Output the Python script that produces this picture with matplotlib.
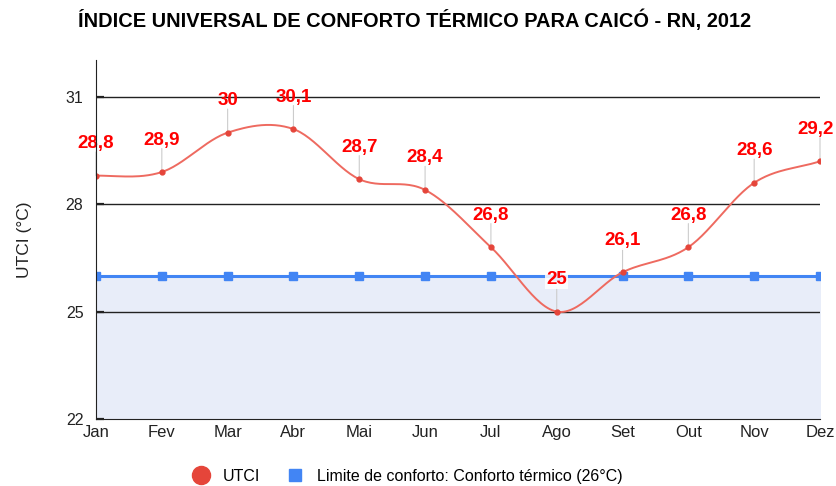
import numpy as np
import matplotlib
matplotlib.use("Agg")
import matplotlib.pyplot as plt
from matplotlib.lines import Line2D

months = ["Jan", "Fev", "Mar", "Abr", "Mai", "Jun", "Jul", "Ago", "Set", "Out", "Nov", "Dez"]
utci = [28.8, 28.9, 30.0, 30.1, 28.7, 28.4, 26.8, 25.0, 26.1, 26.8, 28.6, 29.2]
limite = [26] * 12
yticks = [22, 25, 28, 31]
title = "ÍNDICE UNIVERSAL DE CONFORTO TÉRMICO PARA CAICÓ - RN, 2012"

plt.rcParams['font.family'] = ['Liberation Sans', 'DejaVu Sans']

W, H = 836, 486
fig = plt.figure(figsize=(W / 100, H / 100), dpi=100)
ax = fig.add_axes([96 / W, (H - 419) / H, (820 - 96) / W, (419 - 60) / H])

x = np.arange(len(months))
y = np.array(utci, dtype=float)

# Cardinal (Catmull-Rom style) smooth curve through the points
def smooth(xs, ys, n=30):
    px, py = [], []
    N = len(xs)
    for i in range(N - 1):
        x0, x1 = xs[i], xs[i + 1]
        y0, y1 = ys[i], ys[i + 1]
        m0 = (ys[i + 1] - ys[i - 1]) / 2 if i > 0 else 0.0
        m1 = (ys[i + 2] - ys[i]) / 2 if i + 2 < N else (y1 - y0)
        s = np.linspace(0, 1, n)
        h00 = 2 * s**3 - 3 * s**2 + 1
        h10 = s**3 - 2 * s**2 + s
        h01 = -2 * s**3 + 3 * s**2
        h11 = s**3 - s**2
        px.append(x0 + s * (x1 - x0))
        py.append(h00 * y0 + h10 * m0 + h01 * y1 + h11 * m1)
    return np.concatenate(px), np.concatenate(py)

sx, sy = smooth(x, y)

ax.fill_between(x, 22, limite, color="#e8edf9", zorder=1)
for yt in yticks[1:]:
    ax.axhline(yt, color="#222222", lw=1.0, zorder=2)
ax.plot(x, limite, color="#4285f4", lw=2.2, marker="s", ms=6, zorder=4)
ax.plot(sx, sy, color="#ee6a60", lw=1.4, zorder=5)
ax.plot(x, y, "o", color="#e5453a", ms=3.5, zorder=6)

for xi, yi in zip(x, y):
    lab = ("%g" % yi).replace(".", ",")
    ax.annotate("", xy=(xi, yi), xytext=(0, 17), textcoords="offset points",
                xycoords="data",
                arrowprops=dict(arrowstyle="-", color="#cccccc", lw=0.8,
                                shrinkA=0, shrinkB=0), zorder=3)
    dx = -3 if xi == len(x) - 1 else 0
    ax.annotate(lab, xy=(xi, yi), xytext=(dx, 23), textcoords="offset points",
                ha="center", va="center", color="#ff0000", fontsize=13.5,
                fontweight="bold", zorder=7,
                bbox=dict(boxstyle="square,pad=0.05", fc="white", ec="none", alpha=0.85)
                if yi < 26.5 else None, annotation_clip=False)

ax.set_xlim(0, 11)
ax.set_ylim(22, 32.03)
ax.set_yticks(yticks)
ax.set_xticks(x)
ax.set_xticklabels(months)
ax.tick_params(axis="x", labelsize=12, colors="#222222", length=0, pad=4)
ax.tick_params(axis="y", labelsize=11.5, colors="#222222", length=6, width=1.6,
               direction="in", pad=9)
for s in ["top", "right"]:
    ax.spines[s].set_visible(False)
ax.spines["left"].set_color("#222222")
ax.spines["bottom"].set_color("#222222")
ax.spines["left"].set_zorder(8)
ax.set_ylabel("UTCI (°C)", fontsize=12.5, color="#222222", labelpad=24)

fig.text(415 / W, 1 - 20 / H, title, ha="center", va="center", fontsize=14.4,
         fontweight="bold", color="#000000")

handles = [
    Line2D([], [], marker="o", ls="none", color="#e5453a", ms=13),
    Line2D([], [], marker="s", ls="none", color="#4285f4", ms=8),
]
fig.legend(handles, ["UTCI", "Limite de conforto: Conforto térmico (26°C)"],
           loc="center", bbox_to_anchor=(404 / W, 1 - 476 / H), ncol=2,
           frameon=False, fontsize=11.5, handletextpad=0.35, columnspacing=1.2)

fig.savefig("out.png", dpi=100)
